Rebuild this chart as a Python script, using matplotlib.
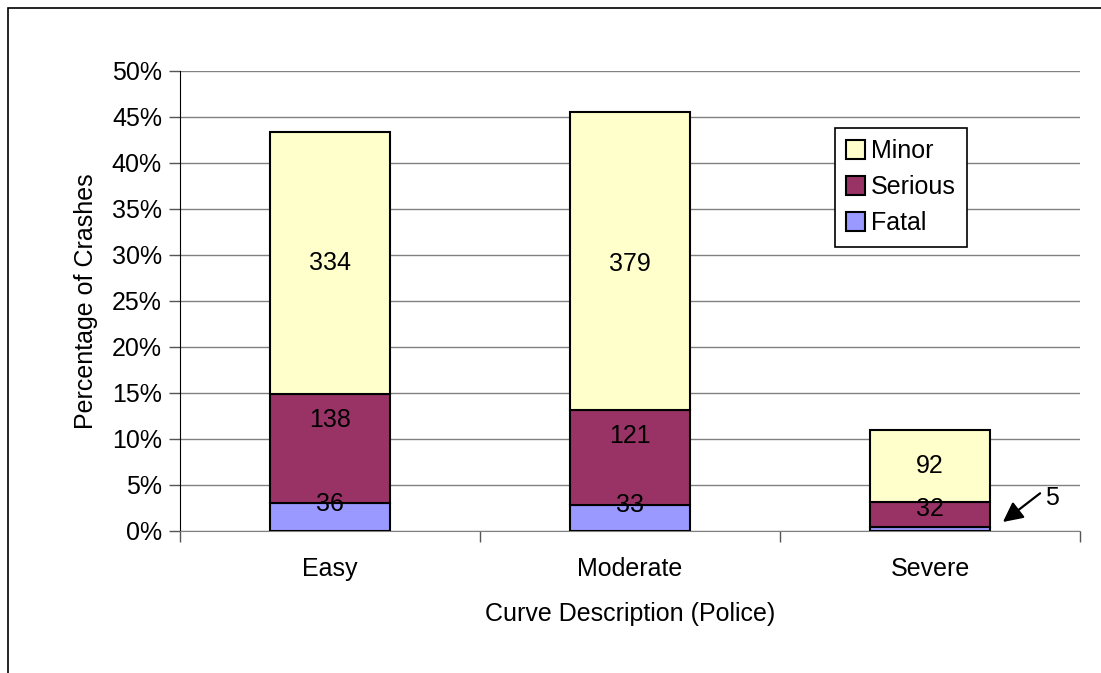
import numpy as np
import matplotlib.pyplot as plt
from matplotlib.patches import Rectangle

categories = ["Easy", "Moderate", "Severe"]
fatal = [36, 33, 5]
serious = [138, 121, 32]
minor = [334, 379, 92]

total = sum(fatal) + sum(serious) + sum(minor)
fatal_p = np.array(fatal) / total * 100
serious_p = np.array(serious) / total * 100
minor_p = np.array(minor) / total * 100

plt.rcParams['font.family'] = ['Liberation Sans', 'DejaVu Sans']

fig = plt.figure(figsize=(11.01, 6.73), dpi=100)
fig.patches.append(Rectangle((8 / 1101, -0.1), 1.2, 1 - 8 / 673 + 0.1, transform=fig.transFigure,
                             fill=False, edgecolor='black', linewidth=1.2))
ax = fig.add_axes([180 / 1101, 1 - 531 / 673, 900 / 1101, 460 / 673])

x = np.arange(len(categories))
w = 0.4
ax.bar(x, fatal_p, w, color='#9999FF', edgecolor='black', linewidth=1.5, label='Fatal', zorder=3)
ax.bar(x, serious_p, w, bottom=fatal_p, color='#993366', edgecolor='black', linewidth=1.5,
       label='Serious', zorder=3)
ax.bar(x, minor_p, w, bottom=fatal_p + serious_p, color='#FFFFCC', edgecolor='black',
       linewidth=1.5, label='Minor', zorder=3)

# value labels (Excel nudges some of them upward)
fs = 18
nudge = {(0, 1): 28, (1, 1): 21, (0, 0): 13, (1, 0): 13, (2, 1): 5, (2, 2): 0, (1, 2): -3}
for i in range(len(categories)):
    segs = [(fatal_p[i], 0, fatal[i]), (serious_p[i], fatal_p[i], serious[i]),
            (minor_p[i], fatal_p[i] + serious_p[i], minor[i])]
    for j, (h, b, n) in enumerate(segs):
        if i == 2 and j == 0:
            continue
        ax.annotate(str(n), (x[i], b + h / 2), xytext=(0, nudge.get((i, j), 0) * 0.72),
                    textcoords='offset points', ha='center', va='center', fontsize=fs, zorder=5)

# the tiny fatal value on Severe is labelled outside with an arrow
ax.annotate('', xy=(x[2] + w / 2 + 0.043, fatal_p[2] + 0.55),
            xytext=(x[2] + w / 2 + 0.167, 4.1),
            arrowprops=dict(arrowstyle='-|>', color='black', lw=1.6, mutation_scale=30,
                            shrinkA=0, shrinkB=0))
ax.text(x[2] + w / 2 + 0.183, 3.55, str(fatal[2]), ha='left', va='center', fontsize=fs)

ax.set_xlim(-0.5, 2.5)
ax.set_ylim(0, 50)
ax.set_yticks(np.arange(0, 51, 5))
ax.set_yticklabels([f"{v}%" for v in range(0, 51, 5)], fontsize=fs)
ax.set_xticks(x)
ax.set_xticklabels(categories, fontsize=fs)
ax.set_xticks([-0.5, 0.5, 1.5, 2.5], minor=True)
ax.tick_params(axis='x', which='major', length=0, pad=19)
ax.tick_params(axis='x', which='minor', length=8, width=1, color='#555555', direction='out')
ax.tick_params(axis='y', length=8, width=1, color='#555555', direction='out', pad=5)
ax.yaxis.grid(True, color='#808080', linewidth=1, zorder=0)
ax.set_axisbelow(True)
for s in ['top', 'right']:
    ax.spines[s].set_visible(False)
ax.spines['left'].set_color('black')
ax.spines['bottom'].set_color('#808080')

ax.set_ylabel("Percentage of Crashes", fontsize=fs, labelpad=10)
ax.set_xlabel("Curve Description (Police)", fontsize=fs, labelpad=15)

h, l = ax.get_legend_handles_labels()
leg = ax.legend(h[::-1], l[::-1], loc='upper left', bbox_to_anchor=(655 / 900, 1 - 57 / 460),
                fontsize=fs, frameon=True, fancybox=False, edgecolor='black', framealpha=1,
                handlelength=0.75, handleheight=0.75, handletextpad=0.25, labelspacing=0.48,
                borderpad=0.45, borderaxespad=0)
leg.get_frame().set_linewidth(1.2)
for p in leg.get_patches():
    p.set_linewidth(1.5)

fig.savefig("out.png", dpi=100)
